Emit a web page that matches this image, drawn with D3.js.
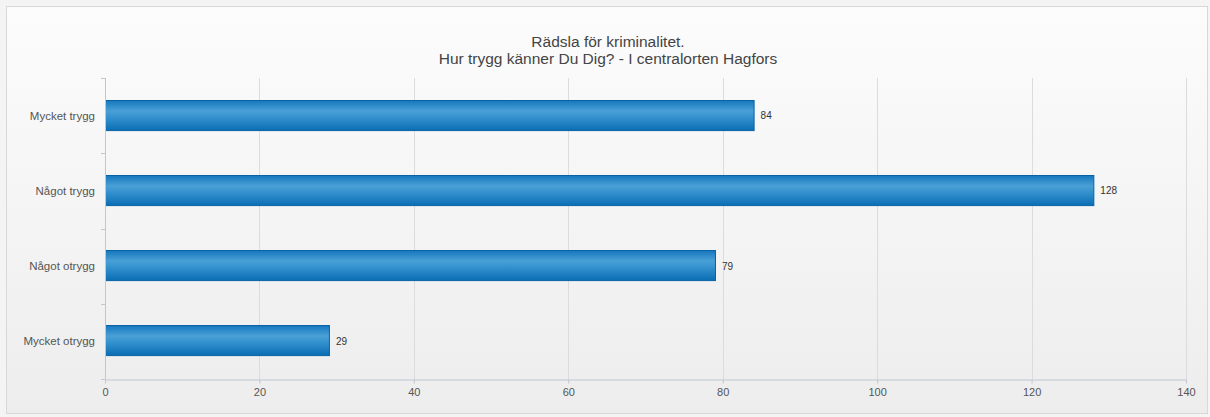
<!DOCTYPE html>
<html>
<head>
<meta charset="utf-8">
<script src="https://cdn.jsdelivr.net/npm/d3@7/dist/d3.min.js"></script>
<style>
  html, body { margin: 0; padding: 0; background: #ffffff; }
  svg { display: block; font-family: Arial, "Liberation Sans", sans-serif; }
</style>
</head>
<body>
<svg id="chart" width="1210" height="417"></svg>
<script>
// Data
const categories = ["Mycket trygg", "Något trygg", "Något otrygg", "Mycket otrygg"];
const values = [84, 128, 79, 29];
const xTicks = [0, 20, 40, 60, 80, 100, 120, 140];
const titleLines = ["Rädsla för kriminalitet.", "Hur trygg känner Du Dig? - I centralorten Hagfors"];

const W = 1210, H = 417;
const margin = { left: 105, right: 24, top: 78, bottom: 38 };
const plotRight = 1186, plotBottom = 379;

const svg = d3.select("#chart");
const defs = svg.append("defs");

// Panel background gradient
const bg = defs.append("linearGradient").attr("id", "bgGrad")
  .attr("x1", 0).attr("y1", 0).attr("x2", 0).attr("y2", 1);
bg.append("stop").attr("offset", "0%").attr("stop-color", "#fcfcfc");
bg.append("stop").attr("offset", "100%").attr("stop-color", "#ededed");

// Bar gradient
const barG = defs.append("linearGradient").attr("id", "barGrad")
  .attr("x1", 0).attr("y1", 0).attr("x2", 0).attr("y2", 1);
barG.append("stop").attr("offset", "0%").attr("stop-color", "#1677bd");
barG.append("stop").attr("offset", "35%").attr("stop-color", "#4aa0d6");
barG.append("stop").attr("offset", "55%").attr("stop-color", "#3592cf");
barG.append("stop").attr("offset", "100%").attr("stop-color", "#0a6db3");

// Outer frame
svg.append("rect").attr("x", 0).attr("y", 0).attr("width", W).attr("height", H).attr("fill", "#f4f4f4");
svg.append("rect").attr("x", 6.5).attr("y", 6.5).attr("width", 1201).attr("height", 407)
  .attr("fill", "url(#bgGrad)").attr("stroke", "#d8d8d8").attr("stroke-width", 1);

// Scales
const x = d3.scaleLinear().domain([0, 140]).range([margin.left, plotRight]);
const y = d3.scaleBand().domain(categories).range([margin.top, plotBottom]).paddingInner(0.6).paddingOuter(0.3);
const yb = d3.scaleBand().domain(categories).range([margin.top, plotBottom]);

// Gridlines
svg.append("g").selectAll("line").data(xTicks.slice(1)).join("line")
  .attr("x1", d => Math.round(x(d)) + 0.5).attr("x2", d => Math.round(x(d)) + 0.5)
  .attr("y1", margin.top).attr("y2", plotBottom)
  .attr("stroke", "#dcdcdc").attr("stroke-width", 1);

// Bars
svg.append("g").selectAll("rect").data(values).join("rect")
  .attr("x", x(0) + 0.5)
  .attr("y", (d, i) => Math.round(y(categories[i])) - 0.5)
  .attr("width", d => x(d) - x(0))
  .attr("height", y.bandwidth())
  .attr("fill", "url(#barGrad)")
  .attr("stroke", "#0863a6").attr("stroke-width", 1);

// Value labels
svg.append("g").selectAll("text").data(values).join("text")
  .attr("x", d => x(d) + 7)
  .attr("y", (d, i) => y(categories[i]) + y.bandwidth() / 2 + 3.5)
  .attr("font-size", 10).attr("fill", "#333")
  .text(d => d);

// X axis
const xAxis = svg.append("g").attr("transform", `translate(0,${plotBottom + 0.5})`)
  .call(d3.axisBottom(x).tickValues(xTicks).tickSize(4).tickSizeOuter(0).tickPadding(5));
xAxis.select(".domain").attr("stroke", "#c0c6d2");
xAxis.selectAll(".tick line").attr("stroke", "#c0c6d2");
xAxis.selectAll(".tick text").attr("font-size", 11).attr("fill", "#555")
  .attr("font-family", "Arial, 'Liberation Sans', sans-serif");

// Y axis line and boundary ticks
svg.append("line").attr("x1", margin.left + 0.5).attr("x2", margin.left + 0.5)
  .attr("y1", margin.top).attr("y2", plotBottom)
  .attr("stroke", "#c0c6d2");
const bounds = categories.map(c => yb(c)).concat([plotBottom]);
svg.append("g").selectAll("line").data(bounds).join("line")
  .attr("x1", margin.left - 4).attr("x2", margin.left)
  .attr("y1", d => Math.round(d) + 0.5).attr("y2", d => Math.round(d) + 0.5)
  .attr("stroke", "#c0c6d2");

// Category labels
svg.append("g").selectAll("text").data(categories).join("text")
  .attr("x", margin.left - 10)
  .attr("y", d => yb(d) + yb.bandwidth() / 2 + 4)
  .attr("text-anchor", "end").attr("font-size", 11.5).attr("fill", "#555")
  .text(d => d);

// Title
svg.append("g").selectAll("text").data(titleLines).join("text")
  .attr("x", 608).attr("y", (d, i) => 47 + i * 17)
  .attr("text-anchor", "middle").attr("font-size", 15.5).attr("fill", "#444")
  .text(d => d);
</script>
</body>
</html>
